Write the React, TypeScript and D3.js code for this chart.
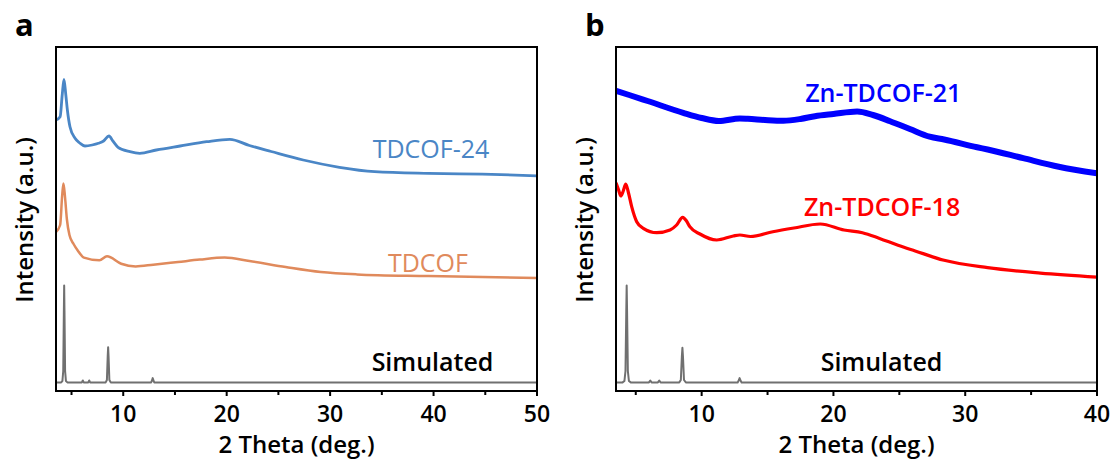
import React from "react";
import * as d3 from "d3";

type Pt = [number, number];

// ---------- Panel a data (2θ in deg., intensity in a.u.) ----------
const tdcof24: Pt[] = [
  [3.5, 271], [3.9, 274.3], [4.1, 296], [4.27, 311.7], [4.45, 296], [4.6, 281],
  [4.85, 264.3], [5.34, 252.7], [5.8, 248], [6.3, 245], [7.0, 246], [7.6, 247.7],
  [8.1, 250], [8.62, 255], [9.0, 250], [9.5, 243.7], [10.65, 239.3], [11.6, 237.7],
  [13.2, 241], [15.5, 245], [18.06, 249.3], [20.3, 251.7], [22.2, 245.5],
  [24.3, 239.5], [27.4, 231], [30.9, 223.7], [34.3, 219.3], [39.5, 217.6],
  [44.7, 216.9], [50, 215.2],
];

const tdcof: Pt[] = [
  [3.5, 159], [3.9, 166], [4.1, 196], [4.22, 207.5], [4.38, 193], [4.55, 172],
  [4.8, 156], [5.2, 147], [5.6, 140.5], [6.2, 133.4], [7.7, 130.7], [8.43, 134.7],
  [9.8, 127.3], [11.2, 124.6], [12.9, 126.3], [15.3, 129], [17.4, 131.4],
  [19.8, 133.4], [22.2, 130], [25.7, 124], [29.1, 119], [32.6, 116.6],
  [39.5, 114.9], [50, 112.9],
];

const simulatedA: Pt[] = [
  [3.5, 8.5], [4.0, 8.6], [4.12, 10], [4.2, 20], [4.26, 80], [4.29, 105.4],
  [4.32, 80], [4.38, 20], [4.46, 10], [4.6, 8.6], [6.0, 8.6], [6.09, 10.5],
  [6.18, 8.6], [6.62, 8.6], [6.71, 10.5], [6.8, 8.6], [8.3, 8.6], [8.42, 11],
  [8.5, 35], [8.54, 43.8], [8.58, 35], [8.66, 11], [8.8, 8.6], [12.7, 8.6],
  [12.8, 11], [12.85, 12.9], [12.9, 11], [13.0, 8.6], [50, 8.5],
];

// ---------- Panel b data ----------
const znTdcof21: Pt[] = [
  [3.5, 300.1], [4.5, 296], [5.9, 290], [8.6, 278.2], [10.0, 273], [11.3, 270],
  [12.9, 272.5], [13.5, 272.2], [14.8, 271], [16.2, 270.2], [17.5, 272],
  [18.6, 274.8], [20.0, 277], [21.8, 279.5], [23.0, 276], [24.3, 269.8],
  [25.8, 262], [27.3, 254.3], [28.4, 251.5], [30.9, 243.7], [31.7, 241.5],
  [34.4, 232.8], [37.1, 224.3], [40, 217.6],
];

const znTdcof18: Pt[] = [
  [3.5, 208.3], [3.7, 201], [3.86, 195], [4.05, 200], [4.24, 207], [4.45, 198],
  [4.69, 184.3], [5.07, 169.3], [5.57, 162.7], [6.59, 158.3], [7.6, 161],
  [8.1, 166], [8.56, 173.7], [8.85, 170], [9.1, 164.3], [9.87, 157],
  [11.14, 151], [12.4, 155], [12.9, 156], [13.7, 154.5], [15.4, 159.3],
  [17.0, 163], [19.0, 167], [20.8, 161], [22.2, 158.3], [23.5, 152.6],
  [24.9, 145.8], [26.2, 140.1], [28.4, 130.7], [31.7, 123.3], [35.7, 117.9],
  [40, 113.9],
];

const simulatedB: Pt[] = [
  [3.5, 8.5], [4.0, 8.6], [4.14, 10], [4.22, 20], [4.28, 80], [4.31, 105.4],
  [4.34, 80], [4.4, 20], [4.48, 10], [4.62, 8.6], [6.0, 8.6], [6.1, 10.5],
  [6.2, 8.6], [6.68, 8.6], [6.78, 10.5], [6.88, 8.6], [8.3, 8.6], [8.42, 11],
  [8.5, 35], [8.54, 43.2], [8.58, 35], [8.66, 11], [8.8, 8.6], [12.73, 8.6],
  [12.83, 11], [12.88, 12.9], [12.93, 11], [13.03, 8.6], [40, 8.5],
];

// ---------- ticks ----------
const majorTicksA = [10, 20, 30, 40, 50];
const minorTicksA = [5, 15, 25, 35, 45];
const majorTicksB = [10, 20, 30, 40];
const minorTicksB = [5, 15, 25, 35];

const xTitle = "2 Theta (deg.)";
const yTitle = "Intensity (a.u.)";

const FONT = '"Open Sans", "Noto Sans", sans-serif';

type Series = {
  data: Pt[];
  color: string;
  width: number;
  smooth: boolean;
};
type Label = {
  text: string;
  x: number; // 2θ
  y: number; // intensity
  color: string;
  weight: number;
};

const TOP = 47;
const BOTTOM = 391;
const Y_MAX = 344;

function Panel(props: {
  letter: string;
  left: number;
  right: number;
  xMax: number;
  major: number[];
  minor: number[];
  series: Series[];
  labels: Label[];
  letterX: number;
}) {
  const { letter, left, right, xMax, major, minor, series, labels, letterX } = props;
  const x = d3.scaleLinear().domain([3.5, xMax]).range([left, right]);
  const y = d3.scaleLinear().domain([0, Y_MAX]).range([BOTTOM, TOP]);
  const cx = (left + right) / 2;
  const cy = (TOP + BOTTOM) / 2;
  return (
    <g>
      <text x={letterX} y={36} fontFamily={FONT} fontWeight={700} fontSize={31} fill="#000">
        {letter}
      </text>
      <defs>
        <clipPath id={"clip-" + letter}>
          <rect x={left} y={TOP} width={right - left} height={BOTTOM - TOP} />
        </clipPath>
      </defs>
      <g clipPath={`url(#clip-${letter})`}>
        {series.map((s, i) => {
          const line = d3
            .line<Pt>()
            .x((d) => x(d[0]))
            .y((d) => y(d[1]))
            .curve(s.smooth ? d3.curveMonotoneX : d3.curveLinear);
          return (
            <path
              key={i}
              d={line(s.data) || ""}
              fill="none"
              stroke={s.color}
              strokeWidth={s.width}
              strokeLinejoin="round"
            />
          );
        })}
      </g>
      {labels.map((l, i) => (
        <text
          key={i}
          x={x(l.x)}
          y={y(l.y)}
          textAnchor="middle"
          fontFamily={FONT}
          fontSize={25}
          fontWeight={l.weight}
          fill={l.color}
        >
          {l.text}
        </text>
      ))}
      <rect
        x={left}
        y={TOP}
        width={right - left}
        height={BOTTOM - TOP}
        fill="none"
        stroke="#000"
        strokeWidth={2}
      />
      {major.map((t) => (
        <line key={"M" + t} x1={x(t)} x2={x(t)} y1={BOTTOM} y2={BOTTOM + 5} stroke="#000" strokeWidth={2} />
      ))}
      {minor.map((t) => (
        <line key={"m" + t} x1={x(t)} x2={x(t)} y1={BOTTOM} y2={BOTTOM + 4} stroke="#000" strokeWidth={2} />
      ))}
      {major.map((t) => (
        <text
          key={"L" + t}
          x={x(t)}
          y={422}
          textAnchor="middle"
          fontFamily={FONT}
          fontSize={23}
          fontWeight={600}
          fill="#000"
        >
          {t}
        </text>
      ))}
      <text x={cx} y={453} textAnchor="middle" fontFamily={FONT} fontSize={24} fontWeight={600} fill="#000">
        {xTitle}
      </text>
      <text
        transform={`translate(${left - 23},${cy + 1}) rotate(-90)`}
        textAnchor="middle"
        fontFamily={FONT}
        fontSize={24}
        fontWeight={600}
        fill="#000"
      >
        {yTitle}
      </text>
    </g>
  );
}

export default function App() {
  const seriesA: Series[] = [
    { data: tdcof24, color: "#4a86c6", width: 2.8, smooth: true },
    { data: tdcof, color: "#e08a5c", width: 2.5, smooth: true },
    { data: simulatedA, color: "#707070", width: 2, smooth: false },
  ];
  const labelsA: Label[] = [
    { text: "TDCOF-24", x: 39.75, y: 233, color: "#4a86c6", weight: 500 },
    { text: "TDCOF", x: 39.46, y: 119, color: "#e08a5c", weight: 500 },
    { text: "Simulated", x: 39.9, y: 20, color: "#000", weight: 600 },
  ];
  const seriesB: Series[] = [
    { data: znTdcof21, color: "#0000ff", width: 6, smooth: true },
    { data: znTdcof18, color: "#ff0000", width: 3.2, smooth: true },
    { data: simulatedB, color: "#707070", width: 2, smooth: false },
  ];
  const labelsB: Label[] = [
    { text: "Zn-TDCOF-21", x: 23.78, y: 289.3, color: "#0000ff", weight: 600 },
    { text: "Zn-TDCOF-18", x: 23.69, y: 175, color: "#ff0000", weight: 600 },
    { text: "Simulated", x: 23.65, y: 19.6, color: "#000", weight: 600 },
  ];
  return (
    <svg
      width={1118}
      height={459}
      style={{ position: "absolute", left: 0, top: 0, background: "#fff" }}
    >
      <rect x={0} y={0} width={1118} height={459} fill="#fff" />
      <Panel
        letter="a"
        left={56}
        right={537}
        xMax={50}
        major={majorTicksA}
        minor={minorTicksA}
        series={seriesA}
        labels={labelsA}
        letterX={15}
      />
      <Panel
        letter="b"
        left={616}
        right={1097}
        xMax={40}
        major={majorTicksB}
        minor={minorTicksB}
        series={seriesB}
        labels={labelsB}
        letterX={585}
      />
    </svg>
  );
}
